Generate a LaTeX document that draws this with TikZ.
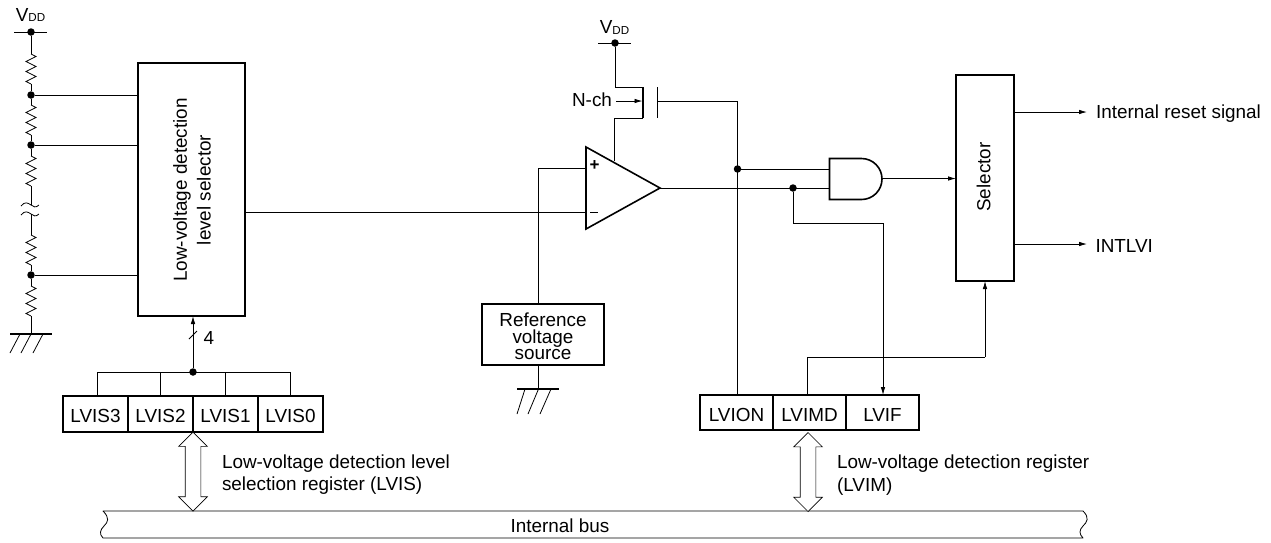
\documentclass[tikz,border=0pt]{standalone}
\usepackage{fontspec}
\setmainfont{Liberation Sans}
\usetikzlibrary{arrows.meta,decorations.pathmorphing,shapes.arrows}
\tikzset{
  wire/.style={line width=0.8pt,black},
  sig/.style={wire,-{Latex[length=8pt,width=4.5pt]}},
  heavy/.style={line width=1.6pt,black},
  blockbox/.style={draw,heavy,inner sep=0pt,outer sep=0pt,align=center,font=\lbl},
  regbox/.style={blockbox,minimum height=36pt,text height=17pt,text depth=0pt},
  lbl/.style={inner sep=0pt,outer sep=0pt,font=\lbl},
  txt/.style={lbl,anchor=west,align=left},
  junction/.style={circle,fill=black,draw=none,minimum size=7.5pt,inner sep=0pt,outer sep=0pt},
  resistor/.style={wire,decorate,decoration={zigzag,segment length=10pt,amplitude=5pt}},
  busarrow/.style={double arrow,draw,line width=0.7pt,rotate=90,minimum height=79pt,minimum width=28pt,
     double arrow head extend=6.5pt,inner sep=0pt,outer sep=0pt,fill=white},
}
\newcommand{\lbl}{\fontsize{18.9pt}{17pt}\selectfont}
\newcommand{\lblref}{\fontsize{18.9pt}{16.5pt}\selectfont}
\newcommand{\vdd}{V\raisebox{-0.7pt}{\fontsize{11.6pt}{12pt}\selectfont DD}}
\begin{document}
\begin{tikzpicture}[x=1pt,y=-1pt]
\useasboundingbox (0,0) rectangle (1271,542);

% --- blocks
\node[blockbox,minimum width=107pt,minimum height=253pt] (lvsel) at (191.5,189.5) {};
\node[lbl,rotate=90,align=center] (lvseltxt) at (192,190) {Low-voltage detection\\[5pt]level selector};
\node[blockbox,minimum width=58pt,minimum height=206pt] (selector) at (985,178) {};
\node[lbl,rotate=90] (seltxt) at (983.5,177) {Selector};
\node[blockbox,minimum width=122pt,minimum height=61pt] (ref) at (543,334.5) {};
\node[lbl,font=\lblref,align=center] (reftxt) at (543,336.5) {Reference\\voltage\\source};

% --- LVIS register
\node[regbox,minimum width=65pt] (lvis3) at (95.5,414) {LVIS3};
\node[regbox,minimum width=65pt] (lvis2) at (160.5,414) {LVIS2};
\node[regbox,minimum width=65pt] (lvis1) at (225.5,414) {LVIS1};
\node[regbox,minimum width=65pt] (lvis0) at (290.5,414) {LVIS0};
% --- LVIM register
\node[regbox,minimum width=73pt,minimum height=35pt] (lvion) at (736.5,412.5) {LVION};
\node[regbox,minimum width=73pt,minimum height=35pt] (lvimd) at (809.5,412.5) {LVIMD};
\node[regbox,minimum width=73pt,minimum height=35pt] (lvif) at (882.5,412.5) {LVIF};

% --- resistor ladder
\coordinate (ltickl) at (14,32);
\coordinate (ltickr) at (47,32);
\node[junction] (ltop) at (31,32) {};
\node[lbl] (lvdd) at (30.5,15) {\vdd};
\node[junction] (n1) at (31,95) {};
\node[junction] (n2) at (31,145) {};
\node[junction] (n3) at (31,275) {};
\coordinate (r1a) at (31,54); \coordinate (r1b) at (31,84);
\coordinate (r2a) at (31,105); \coordinate (r2b) at (31,135);
\coordinate (r3a) at (31,156); \coordinate (r3b) at (31,186);
\coordinate (r4a) at (31,235); \coordinate (r4b) at (31,265);
\coordinate (r5a) at (31,286); \coordinate (r5b) at (31,316);
\coordinate (brk1) at (31,205); \coordinate (brk2) at (31,214);
\coordinate (gnd1) at (31,334);
\draw[wire] (ltickl) -- (ltickr);
\draw[wire] (ltop) -- (r1a);
\draw[resistor] (r1a) -- (r1b);
\draw[wire] (r1b) -- (n1) -- (r2a);
\draw[resistor] (r2a) -- (r2b);
\draw[wire] (r2b) -- (n2) -- (r3a);
\draw[resistor] (r3a) -- (r3b);
\draw[wire] (r3b) -- (brk1);
\draw[wire] (21,206) .. controls (25,201) and (28,203) .. (brk1) .. controls (33,207) and (36,208) .. (39,205);
\draw[wire] (21,215) .. controls (25,210) and (28,212) .. (brk2) .. controls (33,216) and (36,217) .. (39,214);
\draw[wire] (brk2) -- (r4a);
\draw[resistor] (r4a) -- (r4b);
\draw[wire] (r4b) -- (n3) -- (r5a);
\draw[resistor] (r5a) -- (r5b);
\draw[wire] (r5b) -- (gnd1);
\draw[heavy] (10,334) -- (52,334);
\draw[wire] (20,334) -- (10,353) (gnd1) -- (21,353) (43,334) -- (33,353);
\draw[wire] (n1) -- (n1 -| lvsel.west);
\draw[wire] (n2) -- (n2 -| lvsel.west);
\draw[wire] (n3) -- (n3 -| lvsel.west);

% --- LVIS comb
\node[junction] (comb) at (193,372) {};
\coordinate (c3) at (97,372);
\coordinate (c0) at (290,372);
\draw[wire] (c3) -- (c0);
\draw[wire] (c3) -- (c3 |- lvis3.north);
\draw[wire] (160,372) -- (160,396);
\draw[wire] (225,372) -- (225,396);
\draw[wire] (c0) -- (c0 |- lvis0.north);
\draw[sig] (comb) -- (comb |- lvsel.south);
\draw[wire] (189,339) -- (197,331);
\node[lbl] (four) at (209,338) {4};

% --- comparator
\coordinate (opp) at (586,168);
\coordinate (opm) at (586,212);
\coordinate (opo) at (660,188);
\draw[heavy,line join=miter] (586,147) -- (586,229) -- (opo) -- cycle;
\node[lbl] (plus) at (594.5,165.5) {\fontsize{17pt}{17pt}\selectfont\textbf{+}};
\draw[wire] (590,212) -- (598,212);
\draw[wire] (lvsel.east |- opm) -- (opm);
\coordinate (opp2) at (538.5,168);
\coordinate (refn) at (538.5,304);
\coordinate (refs) at (538.5,365);
\coordinate (gnd2) at (538.5,389);
\draw[wire] (opp) -- (opp2) -- (refn);
\draw[wire] (refs) -- (gnd2);
\draw[heavy] (517,389) -- (559,389);
\draw[wire] (525,389) -- (517,414) (gnd2) -- (528,414) (551,389) -- (540,414);

% --- N-channel transistor
\node[junction] (vdd2) at (615,43) {};
\node[lbl] (vdd2t) at (614.5,27.5) {\vdd};
\coordinate (rtickl) at (598,43);
\coordinate (rtickr) at (631,43);
\coordinate (dr1) at (615,87);
\coordinate (dr2) at (643,87);
\coordinate (sr1) at (643,118);
\coordinate (sr2) at (614.5,118);
\coordinate (sr3) at (614.5,161);
\coordinate (arrs) at (616,101);
\coordinate (arre) at (642.5,101);
\coordinate (gt1) at (657.5,87);
\coordinate (gt2) at (657.5,118);
\coordinate (gmid) at (657.5,101);
\coordinate (gcor) at (737.5,101);
\draw[wire] (rtickl) -- (rtickr);
\draw[wire] (vdd2) -- (dr1) -- (dr2);
\draw[wire] (sr1) -- (sr2) -- (sr3);
\draw[heavy] (dr2) -- (sr1);
\draw[heavy] (gt1) -- (gt2);
\draw[sig] (arrs) -- (arre);
\node[lbl,anchor=east] (nch) at (612,100) {N-ch};

% --- logic
\node[junction] (j1) at (737.5,169) {};
\node[junction] (j2) at (793,188) {};
\coordinate (andi1) at (829.5,169);
\coordinate (andi2) at (829.5,188);
\coordinate (ando) at (882,178.5);
\draw[heavy] (829.5,158.5) -- (861.5,158.5) arc[start angle=90,end angle=-90,radius=20.5pt] -- (829.5,199.5) -- cycle;
\draw[wire] (gmid) -- (gcor) -- (gcor |- lvion.north);
\draw[wire] (j1) -- (andi1);
\draw[wire] (opo) -- (andi2);
\draw[sig] (ando) -- (ando -| selector.west);
\coordinate (k1) at (793,223);
\coordinate (k2) at (883,223);
\draw[wire] (j2) -- (k1) -- (k2);
\draw[sig] (k2) -- (k2 |- lvif.north);
\coordinate (m1) at (807,357);
\coordinate (m2) at (985,357);
\draw[wire] (m1 |- lvimd.north) -- (m1) -- (m2);
\draw[sig] (m2) -- (selector.south);

% --- outputs
\coordinate (o1s) at (1014,112); \coordinate (o1e) at (1087,112);
\coordinate (o2s) at (1014,244); \coordinate (o2e) at (1087,244);
\draw[sig] (o1s) -- (o1e);
\draw[sig] (o2s) -- (o2e);
\node[txt] (o1) at (1096,113.5) {Internal reset signal};
\node[txt] (o2) at (1095.5,246) {INTLVI};

% --- internal bus
\draw[wire,line join=round] (103,511) -- (1083,511)
  .. controls (1090,518) and (1087,522) .. (1083,526)
  .. controls (1079,530) and (1079,534) .. (1083,538) -- (103,538)
  .. controls (99,534) and (100,530) .. (104,526)
  .. controls (108,522) and (110,518) .. (103,511) -- cycle;
\node[lbl] (bus) at (560,526) {Internal bus};

% --- bus arrows
\node[busarrow] (ba1) at (193,471.5) {\rule{0pt}{15pt}};
\node[busarrow] (ba2) at (808,472) {\rule{0pt}{15pt}};
\node[txt] (t1) at (222,464) {Low-voltage detection level};
\node[txt] (t2) at (222,486) {selection register (LVIS)};
\node[txt] (t3) at (837,464) {Low-voltage detection register};
\node[txt] (t4) at (837,487) {(LVIM)};
\end{tikzpicture}
\end{document}
